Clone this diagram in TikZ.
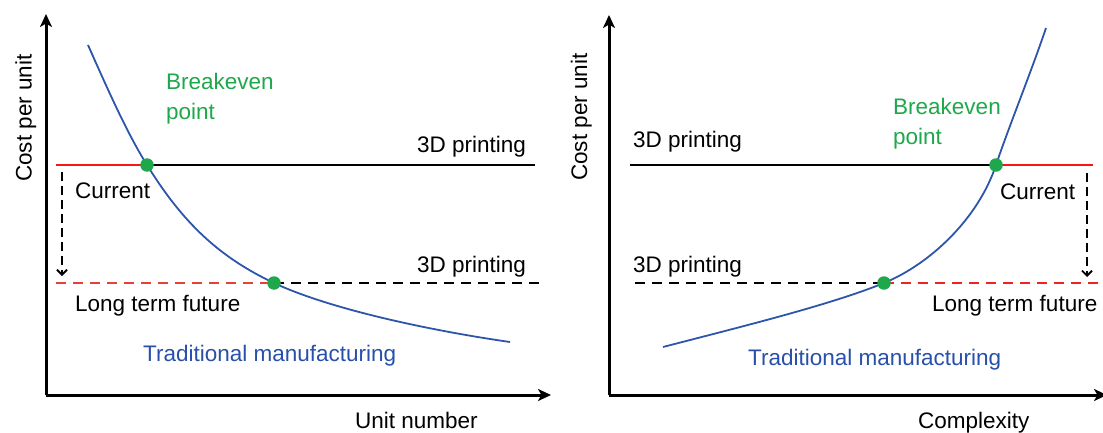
\documentclass[tikz,border=0pt]{standalone}
\usepackage{fontspec}
\setmainfont{Liberation Sans}
\usetikzlibrary{arrows.meta}
\definecolor{curveblue}{RGB}{45,85,170}
\definecolor{textblue}{RGB}{40,80,170}
\definecolor{dotgreen}{RGB}{30,168,75}
\definecolor{lineRed}{RGB}{250,20,20}
\definecolor{dashRedL}{RGB}{228,66,52}
\definecolor{dashRedR}{RGB}{240,35,35}
\begin{document}
\begin{tikzpicture}[x=1pt,y=-1pt,
  lbl/.style={inner sep=0pt, anchor=base west, font=\fontsize{22.5}{27}\selectfont},
  axis/.style={line width=3pt, -{Stealth[length=13pt,width=12pt,inset=3.5pt]}},
  level/.style={line width=1.5pt},
  future/.style={line width=1.5pt, dash pattern=on 10pt off 7pt},
  movearrow/.style={line width=2.2pt, dash pattern=on 9pt off 5pt,
    -{Straight Barb[length=5pt,width=10pt,line width=1.8pt]}},
  costcurve/.style={curveblue, line width=1.8pt},
  dot/.style={circle, fill=dotgreen, inner sep=0pt, minimum size=13.5pt}]
\useasboundingbox (0,0) rectangle (1103,433);

% ---------- left chart: cost against unit number ----------
\coordinate (O1) at (46,395);
\coordinate (Y1) at (46,14);
\coordinate (X1) at (551,395);
\coordinate (cur1s) at (56,165);
\coordinate (be1) at (147,165);
\coordinate (cur1e) at (535,165);
\coordinate (fut1s) at (56,283);
\coordinate (be2) at (274,283);
\coordinate (fut1e) at (542,283);
\coordinate (mv1a) at (62,172);
\coordinate (mv1b) at (62,276);
\coordinate (tm1s) at (88,45);
\coordinate (tm1e) at (510,342);

\draw[axis] (O1) -- (Y1);
\draw[axis] (O1) -- (X1);
\draw[level, lineRed] (cur1s) -- (be1);
\draw[level, black] (be1) -- (cur1e);
\draw[future, dashRedL] (fut1s) -- (be2);
\draw[future, black] (be2) -- (fut1e);
\draw[movearrow] (mv1a) -- (mv1b);
\draw[costcurve] (tm1s) .. controls (108,90) and (127,133) .. (be1)
  .. controls (183,223) and (219,257) .. (be2)
  .. controls (334,311) and (440,332) .. (tm1e);
\node[dot] (d1) at (be1) {};
\node[dot] (d2) at (be2) {};

\node[lbl, rotate=90] (yl1) at (31.5,182) {Cost per unit};
\node[lbl] (xl1) at (355,428) {Unit number};
\node[lbl, dotgreen] (bk1) at (166,90) {Breakeven};
\node[lbl, dotgreen] (bk1b) at (166,120) {point};
\node[lbl] (p1a) at (417,153) {3D printing};
\node[lbl] (p1b) at (417,272) {3D printing};
\node[lbl] (c1) at (75,198) {Current};
\node[lbl] (f1) at (75,311) {Long term future};
\node[lbl, textblue] (t1) at (143,361) {Traditional manufacturing};

% ---------- right chart: cost against complexity ----------
\coordinate (O2) at (609,395);
\coordinate (Y2) at (609,15);
\coordinate (X2) at (1107,395);
\coordinate (cur2s) at (630,165);
\coordinate (be3) at (996,165);
\coordinate (cur2e) at (1093,165);
\coordinate (fut2s) at (635,283);
\coordinate (be4) at (884,283);
\coordinate (fut2e) at (1105,283);
\coordinate (mv2a) at (1087,173);
\coordinate (mv2b) at (1087,277);
\coordinate (tm2s) at (663,347);
\coordinate (tm2e) at (1046,28);

\draw[axis] (O2) -- (Y2);
\draw[axis] (O2) -- (X2);
\draw[level, black] (cur2s) -- (be3);
\draw[level, lineRed] (be3) -- (cur2e);
\draw[future, black] (fut2s) -- (be4);
\draw[future, dashRedR] (be4) -- (fut2e);
\draw[movearrow] (mv2a) -- (mv2b);
\draw[costcurve] (tm2s) .. controls (740,327) and (830,305) .. (be4)
  .. controls (930,264) and (978,219) .. (be3)
  .. controls (1008,129) and (1030,75) .. (tm2e);
\node[dot] (d3) at (be3) {};
\node[dot] (d4) at (be4) {};

\node[lbl, rotate=90] (yl2) at (587,181) {Cost per unit};
\node[lbl] (xl2) at (918,428) {Complexity};
\node[lbl, dotgreen] (bk2) at (893,115) {Breakeven};
\node[lbl, dotgreen] (bk2b) at (893,145) {point};
\node[lbl] (p2a) at (633,148) {3D printing};
\node[lbl] (p2b) at (633,272) {3D printing};
\node[lbl] (c2) at (1000,199) {Current};
\node[lbl] (f2) at (932,311) {Long term future};
\node[lbl, textblue] (t2) at (748,365) {Traditional manufacturing};
\end{tikzpicture}
\end{document}
